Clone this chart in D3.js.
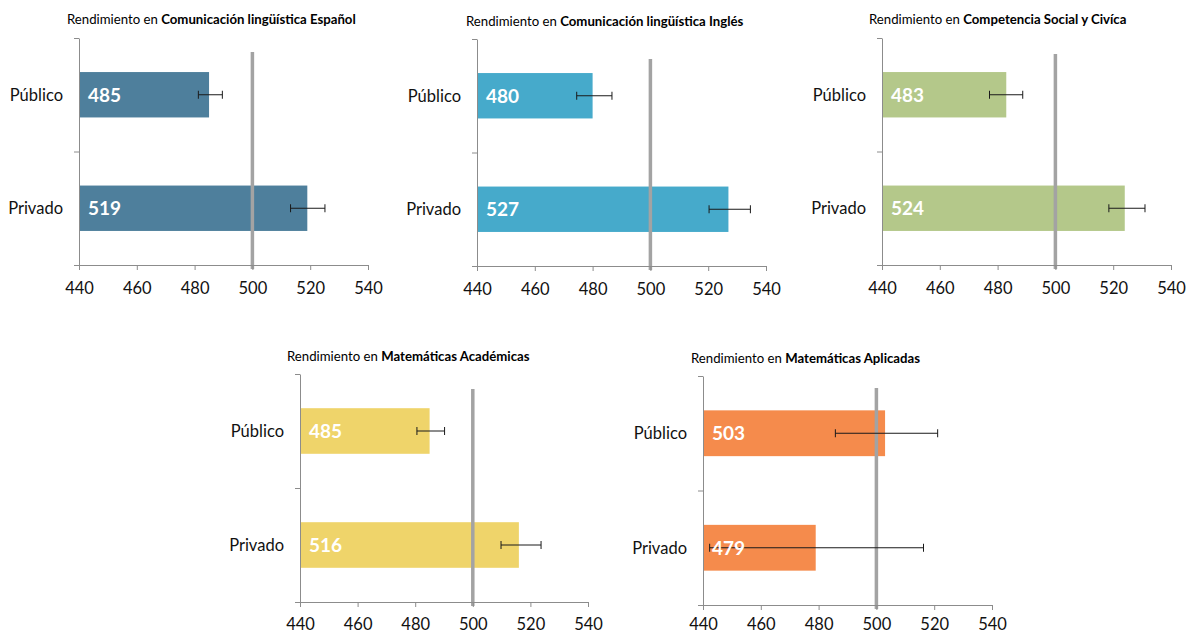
<!DOCTYPE html>
<html>
<head>
<meta charset="utf-8">
<script src="https://cdn.jsdelivr.net/npm/d3@7"></script>
<style>
  html, body { margin: 0; padding: 0; background: #ffffff; }
  svg { display: block; font-family: Lato, "Open Sans", sans-serif; }
</style>
</head>
<body>
<svg id="chart" width="1194" height="634"></svg>
<script>
// ---- data ----
const subjects = [
  "Comunicación lingüística Español",
  "Comunicación lingüística Inglés",
  "Competencia Social y Civíca",
  "Matemáticas Académicas",
  "Matemáticas Aplicadas"
];
const titlePrefix = "Rendimiento en ";
const categories = ["Público", "Privado"];
const scores = [
  [485, 519],
  [480, 527],
  [483, 524],
  [485, 516],
  [503, 479]
];
const errLow = [
  [481.3, 513.2],
  [474.5, 520.3],
  [477.2, 518.5],
  [480.6, 509.8],
  [485.8, 442.3]
];
const errHigh = [
  [489.6, 525.1],
  [486.7, 534.6],
  [488.7, 531.0],
  [490.2, 523.7],
  [521.2, 516.3]
];
const xTicks = [440, 460, 480, 500, 520, 540];
const xDomain = [440, 540];
const reference = 500;
const barColors = ["#4e7f9c", "#46aacb", "#b4c88a", "#efd46a", "#f58b4c"];

// ---- layout ----
const panels = [
  { x0: 79,  x1: 368,  top: 38,  bottom: 265, refTop: 52,  tx: 67,  ty: 19,  pad: 12 },
  { x0: 477, x1: 766,  top: 39,  bottom: 266, refTop: 59,  tx: 466, ty: 21,  pad: 12 },
  { x0: 882, x1: 1171, top: 38,  bottom: 265, refTop: 54,  tx: 869, ty: 19,  pad: 12 },
  { x0: 300, x1: 588,  top: 374, bottom: 602, refTop: 389, tx: 287, ty: 356, pad: 11 },
  { x0: 703, x1: 992,  top: 376, bottom: 605, refTop: 388, tx: 691, ty: 358, pad: 8 }
];

const svg = d3.select("#chart");
const defs = svg.append("defs");
const blur = defs.append("filter").attr("id", "soft").attr("x", "-200%").attr("width", "500%");
blur.append("feGaussianBlur").attr("stdDeviation", 1.3);

const axisColor = "#8c8c8c";

subjects.forEach((subj, i) => {
  const L = panels[i];
  const g = svg.append("g");
  const x = d3.scaleLinear().domain(xDomain).range([L.x0, L.x1]);
  const y = d3.scaleBand().domain(categories).range([L.top, L.bottom])
    .paddingInner(0.6).paddingOuter(0.3);
  const yEdges = d3.scaleLinear().domain([0, categories.length]).range([L.top, L.bottom]);

  // title
  const t = g.append("text")
    .attr("x", L.tx).attr("y", L.ty)
    .attr("dy", "0.35em")
    .attr("font-size", 13.2)
    .attr("fill", "#000");
  t.append("tspan").text(titlePrefix);
  t.append("tspan").attr("font-weight", "bold").text(subj);

  // bars
  const rows = categories.map((c, j) => ({
    cat: c, v: scores[i][j], lo: errLow[i][j], hi: errHigh[i][j]
  }));

  g.selectAll("rect.bar").data(rows).join("rect")
    .attr("class", "bar")
    .attr("x", x(xDomain[0]))
    .attr("y", d => y(d.cat))
    .attr("width", d => x(d.v) - x(xDomain[0]))
    .attr("height", y.bandwidth())
    .attr("fill", barColors[i]);

  // reference line (soft shadow + line)
  g.append("line")
    .attr("x1", x(reference) + 1).attr("x2", x(reference) + 1)
    .attr("y1", L.refTop).attr("y2", L.bottom + 4)
    .attr("stroke", "#b0b0b0").attr("stroke-width", 5.5)
    .attr("filter", "url(#soft)").attr("opacity", 0.8);
  g.append("line")
    .attr("x1", x(reference)).attr("x2", x(reference))
    .attr("y1", L.refTop).attr("y2", L.bottom + 4)
    .attr("stroke", "#a3a3a3").attr("stroke-width", 3.5);

  // error bars
  const eb = g.selectAll("g.err").data(rows).join("g").attr("class", "err")
    .attr("stroke", "#1a1a1a").attr("stroke-width", 1);
  eb.append("line")
    .attr("x1", d => x(d.lo)).attr("x2", d => x(d.hi))
    .attr("y1", d => y(d.cat) + y.bandwidth() / 2)
    .attr("y2", d => y(d.cat) + y.bandwidth() / 2);
  eb.append("line")
    .attr("x1", d => x(d.lo)).attr("x2", d => x(d.lo))
    .attr("y1", d => y(d.cat) + y.bandwidth() / 2 - 4)
    .attr("y2", d => y(d.cat) + y.bandwidth() / 2 + 4);
  eb.append("line")
    .attr("x1", d => x(d.hi)).attr("x2", d => x(d.hi))
    .attr("y1", d => y(d.cat) + y.bandwidth() / 2 - 4)
    .attr("y2", d => y(d.cat) + y.bandwidth() / 2 + 4);

  // value labels
  g.selectAll("text.val").data(rows).join("text")
    .attr("class", "val")
    .attr("x", x(xDomain[0]) + 9)
    .attr("y", d => y(d.cat) + y.bandwidth() / 2)
    .attr("dy", "0.36em")
    .attr("font-size", 19)
    .attr("font-weight", "bold")
    .attr("fill", "#ffffff")
    .text(d => d.v);

  // category labels
  g.selectAll("text.cat").data(rows).join("text")
    .attr("class", "cat")
    .attr("x", L.x0 - 16)
    .attr("y", d => y(d.cat) + y.bandwidth() / 2)
    .attr("dy", "0.35em")
    .attr("text-anchor", "end")
    .attr("font-size", 16.5)
    .attr("fill", "#111")
    .text(d => d.cat);

  // y axis
  const ya = g.append("g").attr("transform", `translate(${L.x0},0)`)
    .call(d3.axisLeft(yEdges).tickValues(d3.range(categories.length + 1))
      .tickFormat("").tickSize(5).tickSizeOuter(0));
  ya.selectAll("path, line").attr("stroke", axisColor);

  // x axis
  const xa = g.append("g").attr("transform", `translate(0,${L.bottom})`)
    .call(d3.axisBottom(x).tickValues(xTicks).tickSize(5).tickSizeOuter(0).tickPadding(L.pad));
  xa.selectAll("path, line").attr("stroke", axisColor);
  xa.selectAll("text").attr("font-size", 16.5).attr("fill", "#111")
    .attr("font-family", "Lato, 'Open Sans', sans-serif");
});
</script>
</body>
</html>
